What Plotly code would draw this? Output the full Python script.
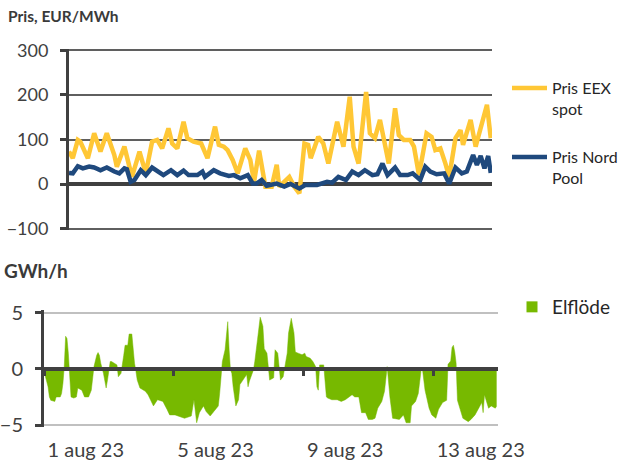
import pandas as pd
import plotly.graph_objects as go

# ---- data -----------------------------------------------------------------
start = pd.Timestamp("2023-08-01 00:00")
end = pd.Timestamp("2023-08-15 00:00")

# EEX spot price, EUR/MWh (hours after 1 Aug 00:00)
eex_hours = [0, 3, 7, 9, 15, 20, 25, 30, 36, 38, 44, 48, 50, 56, 61, 66, 70, 74, 79, 82,
             86, 91, 94, 99, 105, 110, 116, 119, 123, 126, 130, 134, 140, 144, 147, 151,
             153, 156, 161, 165, 167, 175, 179, 183, 187, 190, 192, 196, 198, 202, 206,
             213, 218, 223, 226, 230, 236, 239, 243, 247, 251, 254, 259, 262, 266, 271,
             274, 278, 284, 288, 291, 295, 299, 302, 307, 311, 313, 319, 323, 325, 332, 335]
eex_price = [73, 58, 99, 95, 58, 114, 73, 114, 65, 39, 84, 31, 16, 73, 24, 95, 99, 80, 125, 91,
             80, 140, 103, 95, 91, 58, 129, 88, 84, 76, 54, 24, 80, 54, 5, 75,
             39, -6, -6, 43, -6, 16, -6, -21, 91, 88, 58, 88, 106, 91, 46,
             140, 84, 196, 84, 46, 207, 114, 103, 144, 84, 46, 170, 110, 99, 99,
             84, 20, 114, 106, 76, 80, 46, 16, 103, 121, 88, 144, 84, 103, 178, 103]

# Nord Pool price, EUR/MWh
np_hours = [0, 3, 7, 11, 16, 20, 25, 30, 36, 40, 44, 46, 49, 52, 57, 61, 66, 71, 75, 81,
            86, 91, 95, 102, 106, 108, 115, 120, 127, 131, 136, 142, 146, 149, 153, 157,
            165, 171, 176, 183, 188, 197, 205, 209, 214, 220, 225, 230, 235, 241, 245,
            249, 253, 259, 263, 269, 273, 279, 283, 287, 292, 298, 302, 307, 312, 316,
            321, 324, 327, 330, 333, 335]
np_price = [25, 24, 40, 35, 39, 37, 31, 37, 28, 24, 35, 33, 5, 9, 31, 20, 37, 28, 20, 31,
            20, 30, 20, 20, 28, 16, 31, 24, 18, 20, 13, 20, 1, 1, 9, -4,
            1, -6, 0, -10, -2, -2, 5, 3, 16, 9, 28, 20, 31, 20, 22,
            46, 20, 37, 20, 20, 24, 9, 39, 28, 22, 24, 1, 37, 24, 28,
            65, 43, 63, 35, 63, 25]

# Net power flow, GWh/h
flow_hours = [0, 3, 4, 5, 8, 9, 12, 13, 14, 15, 16, 17, 18, 19, 20, 22, 24, 25, 28, 30,
              33, 35, 36, 37, 39, 40, 41, 42, 44, 45, 46, 47, 49, 50, 52, 54, 55, 56, 57, 59,
              60, 62, 63, 65, 66, 67, 68, 69, 71, 75, 77, 81, 84, 88, 91, 93, 97, 100, 104, 109,
              111, 113, 115, 118, 120, 123, 125, 129, 130, 131, 132, 134, 136, 137, 138, 139, 140, 142, 144, 145,
              147, 150, 151, 152, 155, 156, 158, 160, 162, 163, 165, 167, 170, 171, 173, 175, 177, 178, 180, 181,
              183, 185, 186, 188, 191, 193, 194, 197, 199, 201, 202, 203, 204, 207, 208, 209, 210, 213, 217, 220,
              223, 225, 228, 230, 233, 235, 238, 240, 243, 245, 247, 250, 252, 254, 256, 258, 261, 263, 266, 268,
              271, 272, 275, 277, 279, 280, 282, 285, 287, 290, 292, 295, 298, 299, 301, 302, 303, 304, 305, 306,
              308, 310, 314, 316, 319, 321, 324, 325, 326, 329, 331, 334, 335]
flow = [-0.2, -1.6, -2.5, -2.8, -2.9, -2.5, -2.5, -2.2, -1.3, 0.2, 2.9, 2.7, 1.4, -0.3, -2.5, -2.6, -2.5, -1.7, -1.9, -2.5,
        -2.5, -1.9, -1.0, 0.2, 1.2, 1.45, 1.2, 0.5, -0.4, -1.3, -1.7, -1.0, 0.65, 0.65, 0.5, 0.35, -0.7, -0.5, -0.4, 1.2,
        2.1, 2.1, 3.1, 3.1, 1.7, 0.5, -0.2, -1.0, -1.7, -2.0, -2.3, -3.3, -2.75, -2.9, -3.6, -4.1, -4.1, -4.2, -4.4, -4.2,
        -2.75, -4.8, -3.9, -3.3, -3.8, -4.2, -3.9, -3.3, -2.2, -0.7, 0.65, 1.7, 4.2, 1.7, -0.1, -0.4, -1.6, -3.3, -2.75, -1.4,
        -1.0, -0.5, -1.6, -1.1, -0.1, 0.65, 2.6, 4.6, 3.8, 1.8, 1.4, -1.0, -0.8, 1.7, 1.4, -1.0, -0.7, 0.05, 1.4, 3.2,
        4.5, 3.2, 1.5, 1.4, 1.25, 1.4, 1.1, 0.95, 0.65, 0.2, -1.6, -1.9, 0.35, 0.35, -1.3, -2.5, -2.6, -2.75, -2.75, -2.9,
        -2.75, -2.6, -2.3, -2.5, -2.5, -3.9, -3.9, -4.5, -4.5, -4.4, -3.5, -2.9, -2.0, 0.2, -2.5, -4.4, -4.5, -4.5, -4.1, -4.8,
        -4.8, -3.3, -2.9, -2.2, -0.2, 0.05, -1.9, -3.5, -4.1, -4.4, -3.6, -3.0, -2.8, 0.4, 0.7, 1.9, 2.1, 1.5, 0.5, -2.8,
        -3.6, -4.4, -4.7, -4.5, -4.1, -3.6, -3.0, -3.9, -2.3, -3.5, -3.3, -3.5, -3.3]

date_ticks = ["2023-08-01", "2023-08-05", "2023-08-09", "2023-08-13"]
date_labels = ["1 aug 23", "5 aug 23", "9 aug 23", "13 aug 23"]
price_ticks = [-100, 0, 100, 200, 300]
flow_ticks = [-5, 0, 5]


def to_time(hours):
    return [start + pd.Timedelta(hours=h) for h in hours]


# ---- styling ----------------------------------------------------------------
W, H = 623, 466
FONT = "Lato"
AXIS = "#404040"
YELLOW = "#FFC735"
BLUE = "#1F497D"
GREEN = "#77B900"


def px_x(v):
    return v / W


def px_y(v):
    return 1 - v / H


fig = go.Figure()

fig.add_trace(go.Scatter(
    x=to_time(eex_hours), y=eex_price, mode="lines", name="Pris EEX<br>spot",
    line=dict(color=YELLOW, width=4.5), xaxis="x", yaxis="y", legend="legend"))
fig.add_trace(go.Scatter(
    x=to_time(np_hours), y=np_price, mode="lines", name="Pris Nord<br>Pool",
    line=dict(color=BLUE, width=4.5), xaxis="x", yaxis="y", legend="legend2"))
fig.add_trace(go.Scatter(
    x=to_time(flow_hours), y=flow, mode="lines", fill="tozeroy", fillcolor=GREEN,
    line=dict(color=GREEN, width=0.5), showlegend=False, xaxis="x2", yaxis="y2"))
# legend key for the flow area
fig.add_trace(go.Scatter(
    x=[None], y=[None], mode="markers", name="Elflöde",
    marker=dict(symbol="square", size=11, color=GREEN),
    xaxis="x2", yaxis="y2", legend="legend3"))

# price panel: 0.445 px per EUR/MWh; flow panel: 11.25 px per GWh/h
# (ranges padded slightly so the outer gridlines are kept)
zero_y = px_y(369)

fig.update_layout(
    width=W, height=H,
    margin=dict(l=0, r=0, t=0, b=0, autoexpand=False),
    paper_bgcolor="white", plot_bgcolor="white",
    font=dict(family=FONT, color=AXIS),
    xaxis=dict(domain=[px_x(69), px_x(492)], anchor="y", range=[start, end],
               showticklabels=False, ticks="", showgrid=False, zeroline=False, showline=False),
    yaxis=dict(domain=[px_y(230.3), px_y(48.7)], anchor="x", range=[-104, 304],
               tickvals=price_ticks, showgrid=True, gridcolor="#5f5f5f", gridwidth=2,
               zeroline=True, zerolinecolor=AXIS, zerolinewidth=4,
               showline=True, linecolor=AXIS, linewidth=3,
               ticks="outside", ticklen=6, tickwidth=3, tickcolor=AXIS,
               ticklabelstandoff=8, tickfont=dict(size=18, color=AXIS)),
    xaxis2=dict(domain=[px_x(44), px_x(498)], anchor="free", position=zero_y,
                range=[start, end], tickvals=date_ticks, ticktext=date_labels,
                ticklabelposition="outside right", ticklabelstandoff=62,
                tickfont=dict(size=20, color=AXIS),
                ticks="outside", ticklen=5, tickwidth=3, tickcolor=AXIS,
                showline=True, linecolor=AXIS, linewidth=4, showgrid=False, zeroline=False),
    yaxis2=dict(domain=[px_y(427.25), px_y(310.45)], anchor="x2", range=[-5.2, 5.2],
                tickvals=flow_ticks, showgrid=True, gridcolor="#c0c0c0", gridwidth=2,
                zeroline=False, showline=True, linecolor=AXIS, linewidth=3,
                ticks="outside", ticklen=6, tickwidth=3, tickcolor=AXIS,
                ticklabelstandoff=8, tickfont=dict(size=20, color=AXIS)),
    legend=dict(x=px_x(507), y=px_y(71), xanchor="left", yanchor="top",
                bgcolor="rgba(0,0,0,0)", font=dict(size=16, color="#262626"),
                valign="top", itemwidth=35),
    legend2=dict(x=px_x(507), y=px_y(140), xanchor="left", yanchor="top",
                 bgcolor="rgba(0,0,0,0)", font=dict(size=16, color="#262626"),
                 valign="top", itemwidth=35),
    legend3=dict(x=px_x(512), y=px_y(288), xanchor="left", yanchor="top",
                 bgcolor="rgba(0,0,0,0)", font=dict(size=19, color="#262626"),
                 valign="middle", itemwidth=30),
    annotations=[
        dict(text="<b>Pris, EUR/MWh</b>", xref="paper", yref="paper",
             x=px_x(6), y=px_y(16), xanchor="left", yanchor="middle", showarrow=False,
             font=dict(size=15.5, color="#3a3a3a")),
        dict(text="<b>GWh/h</b>", xref="paper", yref="paper",
             x=px_x(2), y=px_y(270), xanchor="left", yanchor="middle", showarrow=False,
             font=dict(size=19, color="#3a3a3a")),
    ],
)

fig.write_html("out.html")
